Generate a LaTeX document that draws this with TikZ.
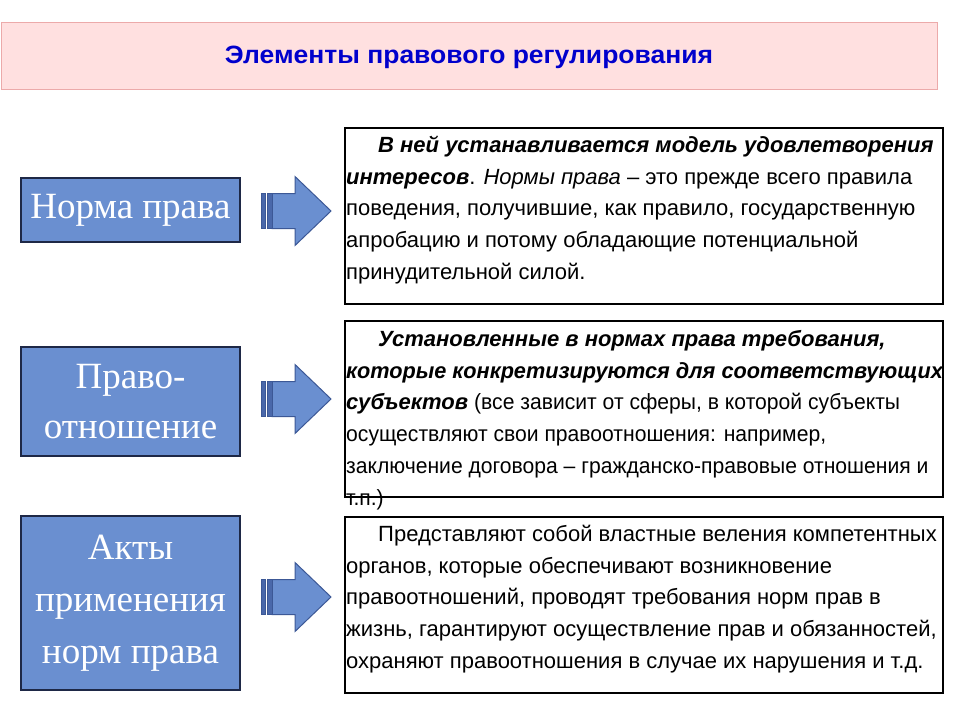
\documentclass[tikz,border=0pt]{standalone}
\usepackage{fontspec}
\setmainfont{Liberation Serif}
\newfontfamily\narrowfont{Liberation Sans}
\newfontfamily\condfont[FakeStretch=0.96]{Liberation Sans}
\newfontfamily\slightfont[FakeStretch=0.985]{Liberation Sans}
\newfontfamily\titlefont[FakeStretch=1.06]{Liberation Sans}
\definecolor{titlefill}{RGB}{255,224,224}
\definecolor{titleborder}{RGB}{236,170,170}
\definecolor{titleblue}{RGB}{0,0,204}
\definecolor{boxblue}{RGB}{106,143,208}
\definecolor{boxborder}{RGB}{30,40,70}
\definecolor{arrowborder}{RGB}{60,88,150}
\definecolor{stripeblue}{RGB}{74,104,170}
\newcommand\stripedarrow[1]{%
  \draw[arrowshape] (272,#1-17.5) -- (295,#1-17.5) -- (295,#1-34.5) -- (331,#1)
     -- (295,#1+34.5) -- (295,#1+17.5) -- (272,#1+17.5) -- cycle;
  \draw[stripeshape] (261,#1-17.5) rectangle (265.5,#1+17.5);
  \draw[stripeshape] (267.5,#1-17.5) rectangle (272,#1+17.5);
}
\newcommand\firststrut{\rule{0pt}{24pt}}
\begin{document}
\begin{tikzpicture}[x=1pt,y=-1pt,
  titlebox/.style={draw=titleborder,fill=titlefill,line width=1pt,inner sep=0pt},
  leftbox/.style={draw=boxborder,fill=boxblue,line width=1.2pt,inner sep=0pt,
     minimum width=219pt,text=white,align=center,
     font=\fontsize{37}{50}\selectfont},
  rightbox/.style={draw=black,line width=2pt,inner sep=0pt,minimum width=598pt,
     minimum height=176pt,anchor=north west},
  boxtext/.style={anchor=north west,inner sep=0pt,align=left,
     font=\narrowfont\fontsize{22}{31.8}\selectfont},
  arrowshape/.style={draw=arrowborder,fill=boxblue,line width=1pt,line join=miter},
  stripeshape/.style={draw=arrowborder,fill=stripeblue,line width=0.8pt}]
\useasboundingbox (0,0) rectangle (960,720);
\fill[white] (0,0) rectangle (960,720);
% title
\node[titlebox,minimum width=936pt,minimum height=67pt] (tbox) at (469,55.5) {};
\node[font=\titlefont\bfseries\fontsize{25}{30}\selectfont,text=titleblue] (title) at (469,57)
  {Элементы правового регулирования};
% left boxes
\node[leftbox,minimum height=64pt] (n1) at (130.5,210) {Норма права};
\node[leftbox,minimum height=109pt] (n2) at (130.5,401.5) {Право-\\отношение};
\node[leftbox,minimum height=174pt,font=\fontsize{37}{52}\selectfont] (n3) at (130.5,603) {Акты\\применения\\норм права};
% arrows
\stripedarrow{211}
\stripedarrow{399}
\stripedarrow{597}
% right boxes
\node[rightbox] (r1) at (344,127) {};
\node[rightbox] (r2) at (344,320) {};
\node[rightbox] (r3) at (344,516) {};
\node[boxtext] (t1) at (346,128) {%
\firststrut\hspace*{32pt}\textbf{\textit{В ней устанавливается модель удовлетворения}}\\
\textbf{\textit{интересов}}. \textit{Нормы права} – это прежде всего правила\\
поведения, получившие, как правило, государственную\\
апробацию и потому обладающие потенциальной\\
принудительной силой.};
\node[boxtext] (t2) at (346,322) {%
\firststrut\hspace*{32pt}\textbf{\textit{Установленные в нормах права требования,}}\\
{\slightfont\bfseries\itshape которые конкретизируются для соответствующих}\\
\textbf{\textit{субъектов}} {\condfont (все зависит от сферы, в которой субъекты}\\
{\condfont осуществляют свои правоотношения: например,}\\
{\condfont заключение договора – гражданско-правовые отношения и}\\
{\condfont т.п.)}};
\node[boxtext] (t3) at (346,517) {%
\firststrut\hspace*{32pt}Представляют собой властные веления компетентных\\
органов, которые обеспечивают возникновение\\
правоотношений, проводят требования норм прав в\\
жизнь, гарантируют осуществление прав и обязанностей,\\
охраняют правоотношения в случае их нарушения и т.д.};
\end{tikzpicture}
\end{document}
